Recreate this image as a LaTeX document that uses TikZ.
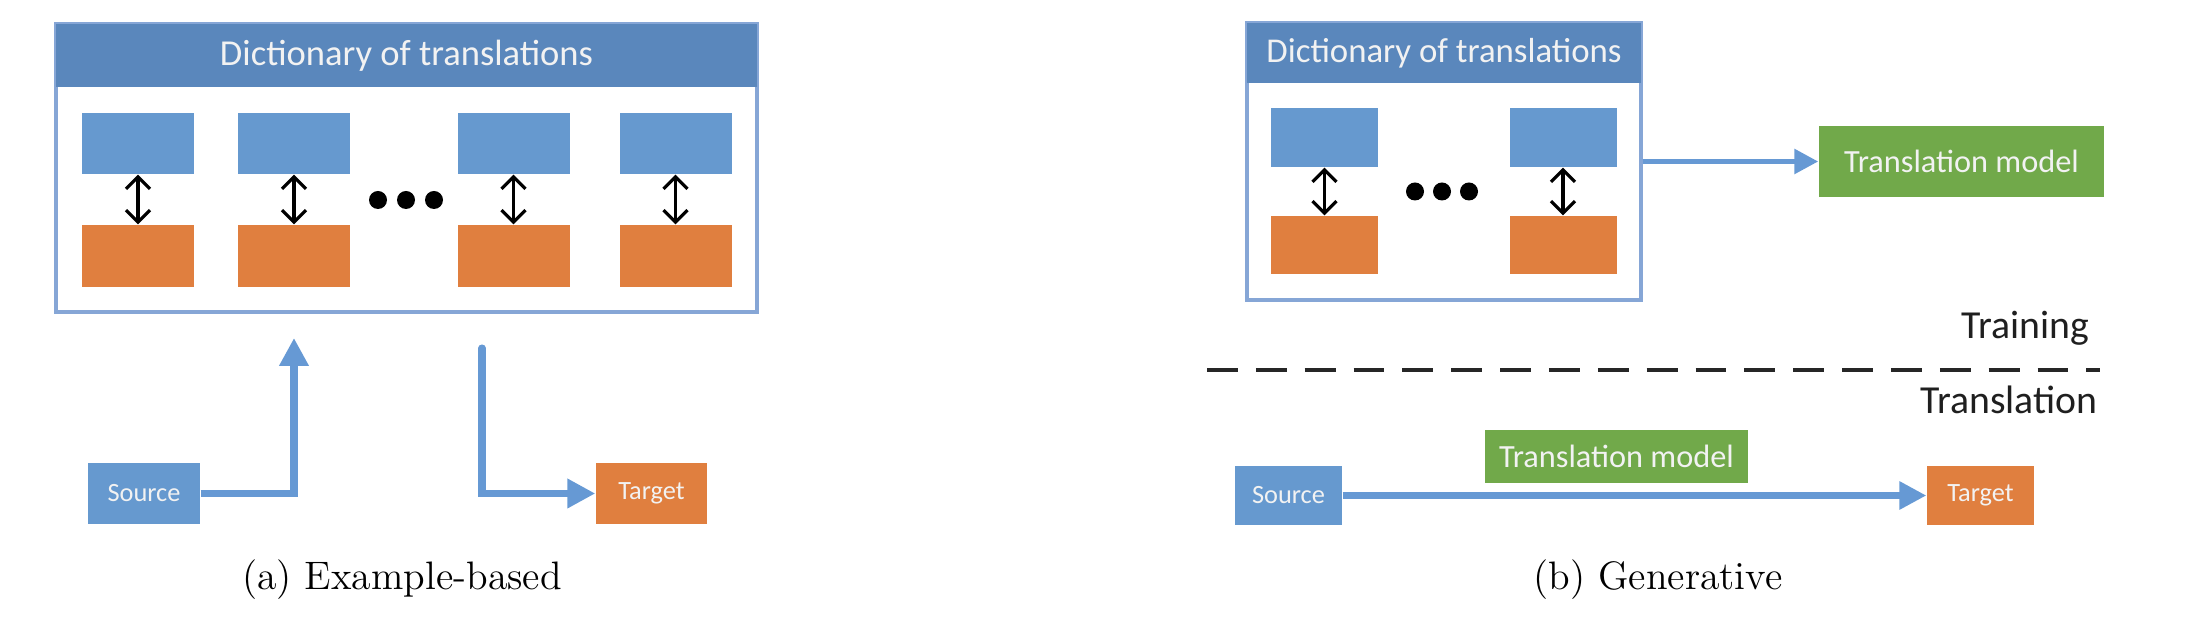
\documentclass[tikz,border=0pt]{standalone}
\usepackage{fontspec}
\usetikzlibrary{arrows.meta}
\newfontfamily\calibri{Carlito}
\definecolor{headblue}{HTML}{5A87BC}
\definecolor{boxblue}{HTML}{6699CF}
\definecolor{boxorange}{HTML}{E07F3F}
\definecolor{boxgreen}{HTML}{71A94A}
\definecolor{rimblue}{HTML}{86A6D6}
\definecolor{arrowblue}{HTML}{6699D4}

\tikzset{
  dict/.style={draw=rimblue, line width=0.9pt, fill=white, inner sep=0pt},
  header/.style={fill=headblue, text=white!95!black, inner sep=0pt},
  caption/.style={font=\fontsize{11.3}{13}\selectfont}
}

\begin{document}
\begin{tikzpicture}[x=0.1mm, y=-0.1mm]
        \tikzstyle{src}=[fill=boxblue, inner sep=0pt, text=white!95!black]
        \tikzstyle{tgt}=[fill=boxorange, inner sep=0pt, text=white!95!black]
        \tikzstyle{model}=[fill=boxgreen, inner sep=0pt, text=white!95!black, font=\calibri\fontsize{9.2}{11}\selectfont]
        \tikzstyle{small}=[font=\calibri\fontsize{7.5}{9}\selectfont]
        \tikzstyle{phase}=[font=\calibri\fontsize{11.3}{13}\selectfont, text=black!88, inner sep=0pt, anchor=east]
        \tikzstyle{flow}=[draw=arrowblue, line width=2pt, -{Triangle[width=2.8mm,length=2.8mm]}]
        \tikzstyle{pair}=[{Straight Barb[width=2.4mm,length=1.2mm]}-{Straight Barb[width=2.4mm,length=1.2mm]}, line width=0.9pt]
        \tikzstyle{cut}=[line width=1.4pt, black!85, dash pattern=on 8.8pt off 5.1pt]

        \useasboundingbox (0,0) rectangle (2188,618);

        \node[dict, minimum width=70.1mm, minimum height=28.8mm] (D_a) at (406.5,168) {};
        \node[header, minimum width=70.1mm, minimum height=6.3mm, font=\calibri\fontsize{10.4}{12}\selectfont] (H_a) at (406.5,55.5) {Dictionary of translations};
        \foreach \i/\x in {1/138,2/294,3/513.5,4/675.5} {
            \node[src, minimum width=11.2mm, minimum height=6.1mm] (S_\i) at (\x,143.5) {};
            \node[tgt, minimum width=11.2mm, minimum height=6.2mm] (T_\i) at (\x,256) {};
            \draw[pair] (S_\i) -- (T_\i);
        }
        \foreach \x in {378,406,434} \fill (\x,200) circle (0.9mm);

        \node[src, small, minimum width=11.2mm, minimum height=6.1mm] (Src_a) at (144,493.5) {Source};
        \node[tgt, small, minimum width=11.1mm, minimum height=6.1mm] (Tgt_a) at (651.5,493.5) {Target};
        \coordinate (in_a) at (294,338);
        \coordinate (out_a) at (482,348);
        \draw[flow] (Src_a.east) -| (in_a);
        \draw[flow, line cap=round] (out_a) |- (Tgt_a.west);
        \node[caption] (cap_a) at (402,580) {(a) Example-based};

        \node[dict, minimum width=39.4mm, minimum height=27.7mm] (D_b) at (1444,161.5) {};
        \node[header, minimum width=39.4mm, minimum height=6mm, font=\calibri\fontsize{9.9}{12}\selectfont] (H_b) at (1444,53) {Dictionary of translations};
        \foreach \i/\x in {5/1324.5,6/1563} {
            \node[src, minimum width=10.7mm, minimum height=5.9mm] (S_\i) at (\x,137.5) {};
            \node[tgt, minimum width=10.7mm, minimum height=5.8mm] (T_\i) at (\x,245) {};
            \draw[pair] (S_\i) -- (T_\i);
        }
        \foreach \x in {1415,1442,1469} \fill (\x,191.5) circle (0.9mm);
        \node[model, minimum width=28.5mm, minimum height=7.1mm] (M_b) at (1961.5,161.5) {Translation model};
        \draw[flow, line width=1.6pt, -{Triangle[width=2.4mm,length=2.4mm]}] (D_b) -- (M_b);

        \node[phase] (train) at (2090,328) {Training};
        \coordinate (cut_l) at (1207,370);
        \coordinate (cut_r) at (2100,370);
        \draw[cut] (cut_l) -- (cut_r);
        \node[phase] (trans) at (2098,400) {Translation};

        \node[src, small, minimum width=10.7mm, minimum height=5.9mm] (Src_b) at (1288.5,495.5) {Source};
        \node[tgt, small, minimum width=10.7mm, minimum height=5.9mm] (Tgt_b) at (1980.5,495.5) {Target};
        \node[model, minimum width=26.3mm, minimum height=5.3mm] (M_c) at (1616.5,456.5) {Translation model};
        \draw[flow, line width=1.8pt, -{Triangle[width=2.7mm,length=2.7mm]}] (Src_b) -- (Tgt_b);
        \node[caption] (cap_b) at (1658,580) {(b) Generative};
\end{tikzpicture}
\end{document}
